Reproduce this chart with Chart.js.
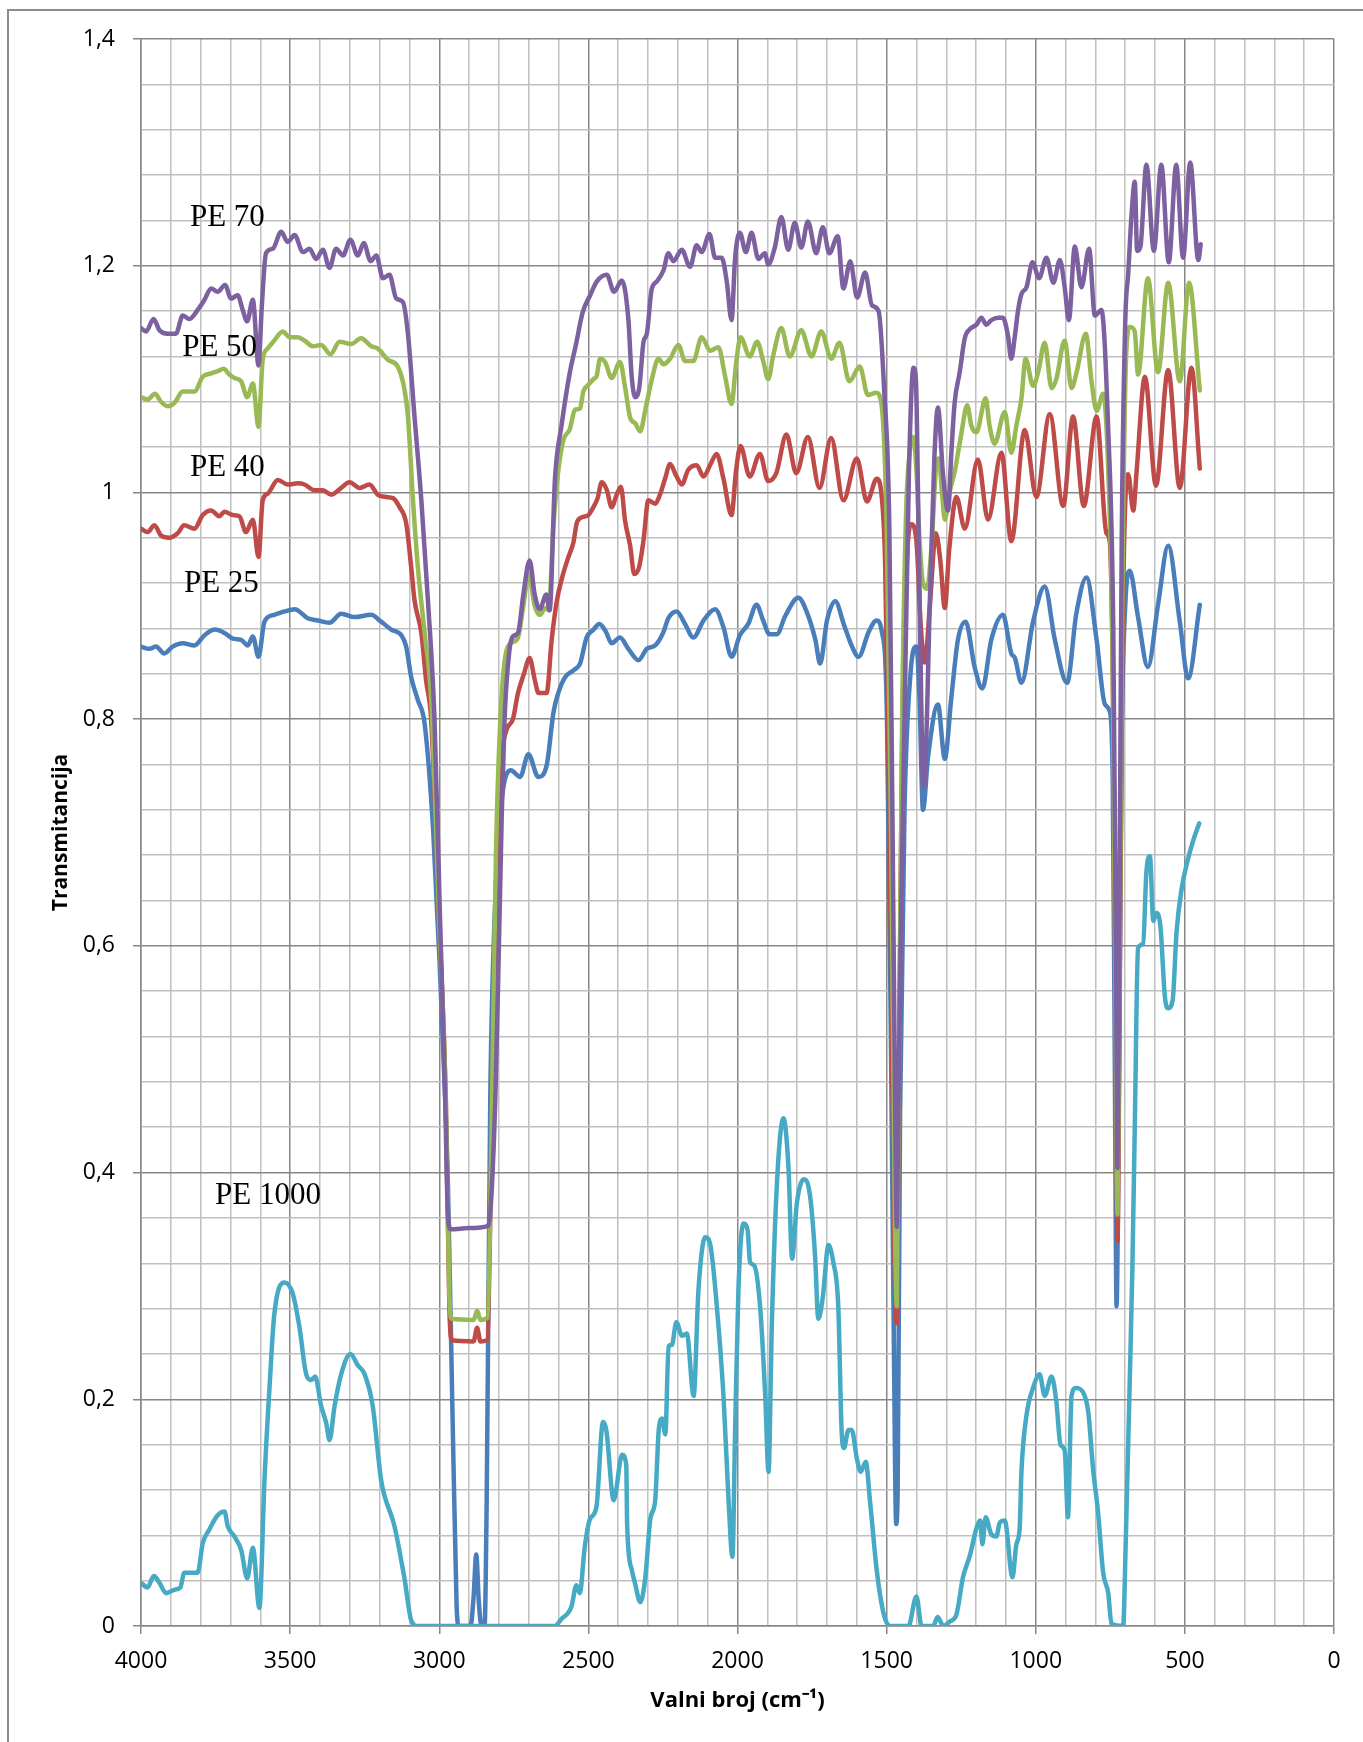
<!DOCTYPE html>
<html>
<head>
<meta charset="utf-8">
<title>Transmitancija PE</title>
<script src="https://cdn.jsdelivr.net/npm/chart.js@4.4.1/dist/chart.umd.min.js"></script>
<style>
  html, body { margin: 0; padding: 0; background: #fff; overflow: hidden; }
  #wrap { position: relative; width: 1363px; height: 1742px; }
  #frame { position: absolute; left: 7px; top: 9px; width: 1400px; height: 1800px;
           border-left: 2px solid #8c8c8c; border-top: 2px solid #8c8c8c; pointer-events: none; }
  .series-label { position: absolute; font-family: "Liberation Serif", "Times New Roman", serif;
                  font-size: 31px; line-height: 1; color: #000; white-space: nowrap; transform: translateY(-50%); }
</style>
</head>
<body>
<div id="wrap">
  <div id="frame"></div>
  <canvas id="ftirChart"></canvas>
</div>
<script>
// wavenumber (cm-1), transmittance
const pe25 = [[4000,0.864],[3972,0.862],[3950,0.864],[3922,0.858],[3894,0.864],[3860,0.867],[3821,0.865],[3787,0.874],[3752,0.879],[3720,0.876],[3692,0.871],[3664,0.87],[3642,0.865],[3625,0.873],[3606,0.855],[3586,0.886],[3553,0.892],[3519,0.895],[3485,0.897],[3441,0.889],[3407,0.887],[3368,0.885],[3329,0.893],[3284,0.89],[3228,0.892],[3195,0.886],[3161,0.879],[3127,0.874],[3111,0.864],[3094,0.837],[3072,0.817],[3049,0.796],[3020,0.70],[2998,0.58],[2980,0.464],[2971,0.39],[2955,0.18],[2942,0.02],[2935,0],[2895,0],[2885,0.025],[2876,0.063],[2867,0.02],[2858,0],[2848,0],[2841,0.11],[2829,0.464],[2815,0.62],[2800,0.70],[2785,0.74],[2760,0.755],[2729,0.749],[2701,0.769],[2668,0.749],[2640,0.759],[2617,0.806],[2601,0.823],[2578,0.837],[2550,0.843],[2528,0.849],[2506,0.872],[2483,0.879],[2463,0.884],[2441,0.877],[2422,0.867],[2394,0.872],[2366,0.862],[2332,0.852],[2304,0.862],[2276,0.865],[2248,0.877],[2232,0.889],[2204,0.895],[2176,0.884],[2148,0.872],[2114,0.887],[2075,0.897],[2047,0.881],[2020,0.855],[1992,0.874],[1964,0.884],[1936,0.901],[1914,0.887],[1893,0.875],[1868,0.875],[1840,0.891],[1796,0.907],[1767,0.894],[1739,0.87],[1723,0.849],[1700,0.887],[1672,0.904],[1644,0.884],[1616,0.864],[1594,0.855],[1560,0.877],[1534,0.887],[1516,0.877],[1499,0.803],[1485,0.5],[1472,0.15],[1468,0.09],[1463,0.12],[1455,0.45],[1440,0.72],[1420,0.84],[1400,0.864],[1390,0.82],[1378,0.72],[1361,0.767],[1328,0.813],[1305,0.765],[1283,0.819],[1261,0.87],[1235,0.886],[1205,0.846],[1179,0.827],[1149,0.87],[1110,0.892],[1082,0.858],[1070,0.854],[1048,0.832],[1009,0.886],[970,0.917],[936,0.87],[895,0.832],[864,0.893],[830,0.925],[796,0.87],[768,0.813],[752,0.807],[742,0.75],[735,0.5],[729,0.282],[722,0.45],[712,0.78],[700,0.9],[685,0.931],[657,0.89],[624,0.846],[590,0.901],[556,0.953],[517,0.886],[489,0.836],[450,0.901]];

const pe40 = [[4000,0.968],[3978,0.965],[3955,0.971],[3933,0.962],[3905,0.96],[3877,0.964],[3855,0.971],[3821,0.968],[3793,0.98],[3765,0.984],[3737,0.979],[3720,0.983],[3692,0.98],[3670,0.979],[3648,0.965],[3625,0.976],[3606,0.943],[3592,0.993],[3575,0.999],[3541,1.011],[3508,1.007],[3474,1.008],[3452,1.007],[3418,1.002],[3390,1.002],[3362,0.998],[3329,1.004],[3301,1.009],[3267,1.004],[3234,1.007],[3206,0.998],[3178,0.996],[3155,0.995],[3133,0.987],[3111,0.973],[3094,0.934],[3083,0.905],[3060,0.876],[3044,0.834],[3027,0.799],[3000,0.62],[2978,0.464],[2966,0.28],[2957,0.252],[2885,0.251],[2873,0.263],[2862,0.251],[2840,0.252],[2822,0.464],[2808,0.66],[2793,0.76],[2775,0.79],[2753,0.80],[2736,0.823],[2716,0.84],[2697,0.854],[2680,0.835],[2667,0.823],[2640,0.823],[2623,0.87],[2606,0.904],[2589,0.924],[2567,0.943],[2550,0.956],[2539,0.973],[2522,0.978],[2500,0.98],[2483,0.987],[2469,0.995],[2455,1.009],[2438,1.002],[2422,0.987],[2405,0.998],[2391,1.005],[2377,0.975],[2360,0.953],[2346,0.928],[2330,0.934],[2315,0.958],[2299,0.993],[2276,0.99],[2260,0.998],[2243,1.012],[2226,1.025],[2206,1.015],[2187,1.007],[2165,1.02],[2137,1.024],[2114,1.014],[2092,1.024],[2070,1.034],[2047,1.012],[2020,0.98],[2005,1.019],[1990,1.041],[1959,1.014],[1925,1.034],[1897,1.01],[1870,1.017],[1836,1.051],[1803,1.017],[1764,1.049],[1725,1.004],[1686,1.048],[1645,0.993],[1600,1.03],[1566,0.992],[1533,1.012],[1516,0.995],[1505,0.938],[1490,0.7],[1474,0.33],[1466,0.267],[1460,0.45],[1448,0.78],[1432,0.94],[1417,0.972],[1400,0.957],[1385,0.88],[1372,0.85],[1355,0.9],[1335,0.964],[1320,0.94],[1305,0.898],[1290,0.95],[1266,0.996],[1238,0.968],[1194,1.029],[1160,0.976],[1115,1.035],[1082,0.957],[1037,1.055],[998,0.996],[953,1.069],[908,0.988],[875,1.067],[839,0.988],[796,1.067],[763,0.964],[752,0.957],[740,0.8],[731,0.5],[726,0.339],[720,0.5],[710,0.85],[700,0.99],[690,1.016],[673,0.984],[662,1.018],[634,1.102],[597,1.006],[556,1.108],[517,1.004],[478,1.11],[450,1.021]];

const pe50 = [[4000,1.084],[3978,1.082],[3953,1.087],[3933,1.08],[3910,1.076],[3888,1.079],[3860,1.089],[3821,1.089],[3793,1.102],[3765,1.105],[3743,1.107],[3723,1.109],[3704,1.104],[3687,1.101],[3664,1.098],[3644,1.084],[3625,1.096],[3606,1.058],[3592,1.117],[3575,1.127],[3553,1.134],[3525,1.142],[3502,1.137],[3474,1.137],[3452,1.134],[3424,1.129],[3396,1.13],[3365,1.122],[3334,1.133],[3295,1.131],[3262,1.136],[3228,1.129],[3206,1.127],[3172,1.117],[3139,1.111],[3116,1.09],[3105,1.067],[3088,0.993],[3072,0.935],[3049,0.876],[3027,0.817],[3000,0.62],[2978,0.464],[2966,0.29],[2958,0.271],[2885,0.27],[2873,0.278],[2862,0.27],[2838,0.272],[2823,0.464],[2810,0.68],[2795,0.80],[2775,0.86],[2753,0.868],[2736,0.872],[2718,0.9],[2700,0.928],[2680,0.9],[2662,0.892],[2645,0.898],[2633,0.896],[2617,0.971],[2601,1.019],[2584,1.046],[2562,1.056],[2545,1.073],[2528,1.074],[2517,1.089],[2500,1.095],[2483,1.1],[2472,1.103],[2461,1.118],[2444,1.115],[2422,1.101],[2394,1.115],[2377,1.093],[2360,1.066],[2343,1.061],[2326,1.054],[2309,1.073],[2287,1.1],[2265,1.118],[2248,1.113],[2226,1.118],[2198,1.13],[2176,1.116],[2148,1.116],[2120,1.137],[2092,1.125],[2064,1.128],[2042,1.103],[2020,1.078],[2005,1.113],[1990,1.137],[1959,1.12],[1934,1.133],[1914,1.116],[1897,1.1],[1880,1.121],[1853,1.145],[1825,1.12],[1786,1.143],[1752,1.12],[1719,1.142],[1686,1.118],[1658,1.132],[1625,1.098],[1590,1.111],[1563,1.086],[1535,1.088],[1518,1.079],[1500,0.971],[1485,0.7],[1472,0.35],[1466,0.282],[1460,0.45],[1448,0.8],[1435,0.98],[1423,1.035],[1412,1.049],[1400,1.02],[1390,0.96],[1378,0.92],[1365,0.915],[1350,0.95],[1335,1.02],[1325,1.03],[1313,0.995],[1305,0.976],[1289,1.0],[1272,1.018],[1250,1.051],[1230,1.077],[1216,1.059],[1199,1.053],[1168,1.083],[1155,1.059],[1138,1.043],[1104,1.071],[1082,1.035],[1065,1.059],[1048,1.083],[1034,1.118],[1009,1.094],[992,1.106],[970,1.132],[947,1.092],[931,1.1],[903,1.134],[880,1.092],[863,1.106],[832,1.14],[813,1.098],[796,1.072],[774,1.087],[757,1.02],[742,0.85],[731,0.5],[726,0.363],[720,0.55],[710,0.9],[697,1.12],[685,1.146],[668,1.142],[657,1.104],[624,1.189],[590,1.106],[556,1.185],[517,1.098],[486,1.185],[450,1.09]];

const pe70 = [[4000,1.145],[3983,1.142],[3958,1.153],[3938,1.143],[3910,1.14],[3883,1.14],[3860,1.156],[3838,1.153],[3810,1.161],[3787,1.17],[3765,1.18],[3743,1.177],[3718,1.183],[3698,1.171],[3676,1.174],[3659,1.161],[3644,1.151],[3625,1.17],[3606,1.112],[3595,1.164],[3581,1.211],[3558,1.215],[3530,1.23],[3508,1.221],[3485,1.227],[3457,1.212],[3435,1.215],[3413,1.206],[3390,1.214],[3368,1.198],[3346,1.215],[3323,1.209],[3298,1.223],[3273,1.209],[3253,1.22],[3230,1.204],[3211,1.209],[3189,1.189],[3167,1.192],[3144,1.171],[3122,1.168],[3105,1.14],[3083,1.067],[3060,0.993],[3038,0.905],[3016,0.80],[2998,0.63],[2980,0.464],[2972,0.37],[2962,0.35],[2900,0.351],[2836,0.353],[2812,0.464],[2800,0.6],[2790,0.72],[2781,0.80],[2765,0.86],[2753,0.873],[2736,0.876],[2718,0.91],[2697,0.94],[2680,0.91],[2663,0.897],[2641,0.91],[2630,0.896],[2612,1.012],[2590,1.059],[2562,1.106],[2542,1.13],[2519,1.159],[2494,1.174],[2472,1.186],[2438,1.192],[2414,1.177],[2388,1.187],[2366,1.153],[2355,1.103],[2343,1.084],[2329,1.093],[2315,1.133],[2304,1.14],[2288,1.179],[2271,1.186],[2248,1.196],[2232,1.211],[2215,1.204],[2187,1.214],[2159,1.199],[2137,1.218],[2120,1.212],[2094,1.228],[2075,1.207],[2053,1.207],[2036,1.186],[2020,1.152],[2008,1.207],[1992,1.229],[1972,1.212],[1953,1.229],[1930,1.206],[1908,1.211],[1897,1.201],[1875,1.216],[1853,1.243],[1830,1.214],[1808,1.238],[1786,1.216],[1764,1.239],[1736,1.211],[1714,1.234],[1692,1.211],[1664,1.226],[1645,1.18],[1622,1.204],[1599,1.172],[1572,1.194],[1549,1.165],[1527,1.16],[1508,1.089],[1491,0.97],[1480,0.7],[1470,0.42],[1466,0.352],[1461,0.45],[1452,0.62],[1440,0.8],[1425,1.02],[1410,1.11],[1402,1.10],[1392,0.95],[1381,0.77],[1375,0.74],[1365,0.80],[1356,0.897],[1340,1.03],[1328,1.075],[1311,1.016],[1294,0.984],[1283,1.035],[1272,1.079],[1255,1.106],[1238,1.136],[1221,1.144],[1199,1.148],[1182,1.154],[1166,1.148],[1149,1.152],[1126,1.154],[1110,1.154],[1093,1.138],[1082,1.118],[1070,1.138],[1059,1.161],[1048,1.175],[1031,1.181],[1011,1.203],[989,1.189],[964,1.207],[941,1.185],[919,1.205],[903,1.181],[889,1.152],[869,1.217],[847,1.181],[821,1.215],[802,1.156],[780,1.161],[757,1.055],[740,0.878],[730,0.55],[726,0.404],[720,0.6],[712,0.95],[700,1.15],[690,1.193],[679,1.244],[668,1.274],[660,1.213],[649,1.217],[629,1.289],[604,1.213],[579,1.289],[554,1.203],[529,1.289],[506,1.207],[482,1.291],[455,1.205],[447,1.219]];

const pe1000 = [[4000,0.038],[3978,0.034],[3957,0.044],[3938,0.038],[3916,0.029],[3888,0.032],[3868,0.034],[3855,0.047],[3832,0.047],[3810,0.047],[3793,0.073],[3771,0.085],[3745,0.097],[3720,0.101],[3709,0.088],[3687,0.079],[3664,0.067],[3644,0.042],[3625,0.069],[3603,0.016],[3586,0.129],[3569,0.211],[3553,0.275],[3519,0.303],[3491,0.293],[3469,0.264],[3446,0.222],[3430,0.217],[3416,0.22],[3396,0.194],[3379,0.179],[3368,0.164],[3351,0.194],[3329,0.222],[3298,0.24],[3273,0.23],[3250,0.222],[3223,0.194],[3195,0.129],[3150,0.088],[3116,0.041],[3094,0.005],[3072,0],[2613,0],[2591,0.006],[2557,0.017],[2540,0.036],[2529,0.029],[2512,0.07],[2495,0.094],[2473,0.105],[2451,0.18],[2440,0.173],[2415,0.111],[2387,0.151],[2373,0.142],[2370,0.089],[2354,0.049],[2343,0.037],[2326,0.021],[2309,0.043],[2292,0.095],[2276,0.111],[2264,0.173],[2253,0.183],[2242,0.169],[2231,0.247],[2220,0.248],[2205,0.268],[2186,0.256],[2170,0.258],[2147,0.203],[2131,0.296],[2108,0.343],[2091,0.336],[2069,0.281],[2047,0.203],[2030,0.111],[2017,0.061],[2008,0.173],[1997,0.296],[1980,0.355],[1966,0.349],[1958,0.321],[1944,0.318],[1924,0.281],[1907,0.203],[1896,0.136],[1885,0.265],[1868,0.389],[1846,0.448],[1829,0.404],[1817,0.324],[1801,0.373],[1777,0.394],[1757,0.38],[1740,0.327],[1729,0.271],[1714,0.29],[1695,0.336],[1679,0.321],[1662,0.281],[1651,0.173],[1643,0.157],[1628,0.173],[1617,0.173],[1600,0.148],[1587,0.136],[1570,0.145],[1556,0.111],[1533,0.049],[1511,0.012],[1489,0],[1427,0],[1400,0.026],[1383,0],[1344,0],[1329,0.008],[1310,0],[1288,0.004],[1266,0.01],[1244,0.043],[1221,0.062],[1199,0.086],[1186,0.093],[1179,0.072],[1168,0.096],[1149,0.081],[1132,0.079],[1121,0.091],[1104,0.093],[1078,0.043],[1065,0.072],[1054,0.086],[1048,0.136],[1031,0.186],[1009,0.21],[987,0.222],[970,0.203],[947,0.22],[931,0.198],[917,0.16],[903,0.155],[892,0.096],[880,0.203],[866,0.21],[841,0.206],[824,0.189],[808,0.139],[791,0.1],[774,0.047],[757,0.029],[746,0.002],[707,0],[698,0.077],[685,0.215],[676,0.316],[668,0.44],[657,0.598],[640,0.602],[629,0.665],[617,0.679],[606,0.622],[595,0.629],[582,0.617],[567,0.555],[556,0.545],[541,0.552],[528,0.612],[511,0.65],[492,0.674],[472,0.693],[452,0.708]];

const seriesNames = ["PE 25", "PE 40", "PE 50", "PE 70", "PE 1000"];
const seriesData = [pe25, pe40, pe50, pe70, pe1000];
const seriesColors = ["#4A7EBB", "#BE4B48", "#98B954", "#7D60A0", "#46AAC5"];

// where the series names sit (wavenumber of left edge, transmittance of middle)
const labelWn = [3856, 3836, 3862, 3836, 3752];
const labelT = [0.922, 1.024, 1.130, 1.245, 0.382];

const xMin = 0, xMax = 4000, xMinor = 100, xMajor = 500;
const yMin = 0, yMax = 1.4, yMinor = 0.04, yMajor = 0.2;

const majorGrid = "#878787";
const minorGrid = "#c0c0c0";

document.addEventListener("DOMContentLoaded", () => {
    const canvas = document.getElementById("ftirChart");
    const wrap = document.getElementById("wrap");

    const isMajorX = v => Math.round(v) % xMajor === 0;
    const isMajorY = v => Math.round(v * 100) % Math.round(yMajor * 100) === 0;

    const datasets = seriesNames.map((name, i) => ({
        label: name,
        data: seriesData[i].map(p => ({ x: p[0], y: p[1] })),
        borderColor: seriesColors[i],
        backgroundColor: seriesColors[i],
        borderWidth: 4.5,
        pointRadius: 0,
        fill: false,
        cubicInterpolationMode: "monotone",
        borderJoinStyle: "round",
        borderCapStyle: "round",
        order: seriesNames.length - i   // later series drawn on top, like the original
    }));

    const chart = new Chart(canvas.getContext("2d"), {
        type: "line",
        data: { datasets },
        options: {
            responsive: true,
            maintainAspectRatio: false,
            animation: false,
            layout: { padding: { left: 30, top: 39, right: 29, bottom: 20 } },
            plugins: { legend: { display: false }, tooltip: { enabled: false } },
            scales: {
                x: {
                    type: "linear",
                    reverse: true,
                    min: xMin,
                    max: xMax,
                    afterFit: s => { s.height = 96; },
                    ticks: {
                        stepSize: xMinor,
                        autoSkip: false,
                        maxRotation: 0,
                        padding: 14,
                        color: "#000",
                        font: { family: "'Open Sans', sans-serif", size: 23 },
                        callback: v => isMajorX(v) ? String(v) : ""
                    },
                    grid: {
                        color: c => isMajorX(c.tick.value) ? majorGrid : minorGrid,
                        lineWidth: 1.5,
                        tickLength: 8,
                        tickColor: c => isMajorX(c.tick.value) ? majorGrid : "rgba(0,0,0,0)"
                    },
                    border: { color: majorGrid, width: 1.5 },
                    title: {
                        display: true,
                        text: "Valni broj (cm\u207B\u00B9)",
                        color: "#000",
                        font: { family: "'Open Sans', sans-serif", size: 22, weight: "bold" },
                        padding: { top: 0, bottom: 8 }
                    }
                },
                y: {
                    min: yMin,
                    max: yMax,
                    afterFit: s => { s.width = 111; },
                    ticks: {
                        stepSize: yMinor,
                        autoSkip: false,
                        padding: 18,
                        color: "#000",
                        font: { family: "'Open Sans', sans-serif", size: 23 },
                        callback: v => isMajorY(v) ? String(Math.round(v * 10) / 10).replace(".", ",") : ""
                    },
                    grid: {
                        color: c => isMajorY(c.tick.value) ? majorGrid : minorGrid,
                        lineWidth: 1.5,
                        tickLength: 8,
                        tickColor: c => isMajorY(c.tick.value) ? majorGrid : "rgba(0,0,0,0)"
                    },
                    border: { color: majorGrid, width: 1.5 },
                    title: {
                        display: true,
                        text: "Transmitancija",
                        color: "#000",
                        font: { family: "'Open Sans', sans-serif", size: 21, weight: "bold" },
                        padding: { top: 18, bottom: 0 }
                    }
                }
            }
        }
    });

    // series names as text next to the curves
    const xs = chart.scales.x, ys = chart.scales.y;
    seriesNames.forEach((name, i) => {
        const div = document.createElement("div");
        div.className = "series-label";
        div.textContent = name;
        div.style.left = xs.getPixelForValue(labelWn[i]) + "px";
        div.style.top = ys.getPixelForValue(labelT[i]) + "px";
        wrap.appendChild(div);
    });
});
</script>
</body>
</html>
